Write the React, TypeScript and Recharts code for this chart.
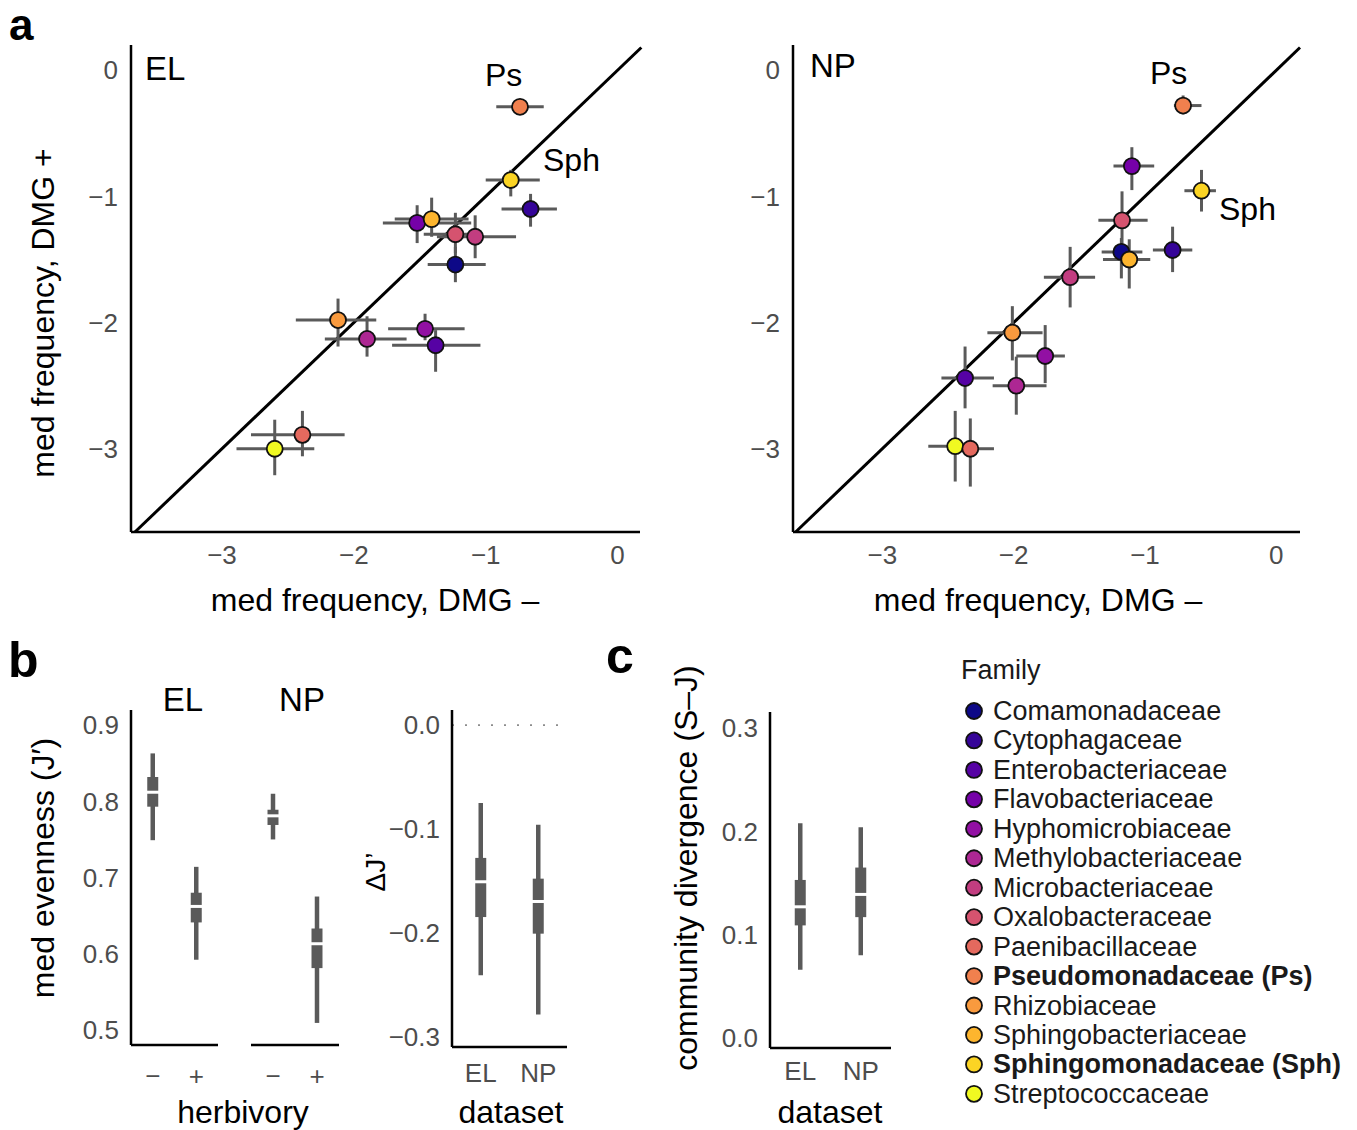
import React from "react";
import {
  ScatterChart,
  ComposedChart,
  Scatter,
  XAxis,
  YAxis,
  ErrorBar,
  ReferenceLine,
} from "recharts";

// ---- families (plasma palette, 14 steps) ----
const families = [
  "Comamonadaceae",
  "Cytophagaceae",
  "Enterobacteriaceae",
  "Flavobacteriaceae",
  "Hyphomicrobiaceae",
  "Methylobacteriaceae",
  "Microbacteriaceae",
  "Oxalobacteraceae",
  "Paenibacillaceae",
  "Pseudomonadaceae (Ps)",
  "Rhizobiaceae",
  "Sphingobacteriaceae",
  "Sphingomonadaceae (Sph)",
  "Streptococcaceae",
];
const familyColors = [
  "#0d0887", "#350498", "#5602a4", "#7501a8", "#9210a3", "#ad2793", "#c23d80",
  "#d5536f", "#e4695e", "#f0804e", "#f99a3e", "#fdb52e", "#fbd424", "#f0f921",
];
const boldFamilies = [9, 12];

// ---- panel a, EL: median log frequency without (x) / with (y) damage ----
const elFamily = [9, 12, 1, 3, 11, 7, 6, 0, 10, 5, 4, 2, 8, 13];
const elX = [-0.74, -0.81, -0.66, -1.52, -1.41, -1.23, -1.08, -1.23, -2.12, -1.9, -1.46, -1.38, -2.39, -2.6];
const elY = [-0.29, -0.87, -1.1, -1.21, -1.18, -1.3, -1.32, -1.54, -1.98, -2.13, -2.05, -2.18, -2.89, -3.0];
const elXLow = [-0.92, -1.0, -0.88, -1.78, -1.69, -1.47, -1.37, -1.44, -2.44, -2.22, -1.74, -1.71, -2.78, -2.89];
const elXHigh = [-0.56, -0.59, -0.46, -1.11, -1.13, -1.11, -0.77, -1.0, -1.83, -1.6, -1.16, -1.04, -2.07, -2.3];
const elYLow = [-0.33, -1.0, -1.24, -1.37, -1.32, -1.45, -1.49, -1.68, -2.19, -2.27, -2.14, -2.39, -3.06, -3.21];
const elYHigh = [-0.25, -0.79, -0.98, -1.07, -1.01, -1.13, -1.15, -1.4, -1.81, -1.95, -1.93, -2.06, -2.7, -2.77];

// ---- panel a, NP ----
const npFamily = [9, 3, 12, 7, 0, 11, 1, 6, 10, 4, 5, 2, 13, 8];
const npX = [-0.71, -1.1, -0.57, -1.175, -1.18, -1.12, -0.79, -1.57, -2.01, -1.76, -1.98, -2.37, -2.445, -2.33];
const npY = [-0.28, -0.76, -0.955, -1.19, -1.44, -1.5, -1.425, -1.64, -2.08, -2.265, -2.5, -2.44, -2.98, -3.0];
const npXLow = [-0.78, -1.24, -0.7, -1.355, -1.33, -1.32, -0.94, -1.77, -2.2, -1.98, -2.16, -2.55, -2.65, -2.39];
const npXHigh = [-0.57, -0.93, -0.46, -0.98, -1.02, -0.96, -0.64, -1.38, -1.78, -1.61, -1.75, -2.15, -2.39, -2.15];
const npYLow = [-0.35, -0.95, -1.12, -1.43, -1.65, -1.73, -1.6, -1.88, -2.3, -2.48, -2.73, -2.68, -3.26, -3.3];
const npYHigh = [-0.2, -0.61, -0.79, -0.96, -1.33, -1.34, -1.24, -1.4, -1.87, -2.02, -2.27, -2.19, -2.7, -2.76];

const freqTicks = [-3, -2, -1, 0];

// ---- panel b: evenness by herbivory ----
const herbivory = ["\u2212", "+"];
const evElMed = [0.812, 0.662];
const evElLow50 = [0.793, 0.641];
const evElHigh50 = [0.832, 0.68];
const evElLow95 = [0.749, 0.592];
const evElHigh95 = [0.863, 0.714];
const evNpMed = [0.781, 0.613];
const evNpLow50 = [0.769, 0.581];
const evNpHigh50 = [0.789, 0.633];
const evNpLow95 = [0.75, 0.509];
const evNpHigh95 = [0.81, 0.675];
const evTicks = [0.5, 0.6, 0.7, 0.8, 0.9];

// ---- panel b: delta J' ----
const datasets = ["EL", "NP"];
const dJMed = [-0.151, -0.17];
const dJLow50 = [-0.185, -0.201];
const dJHigh50 = [-0.128, -0.148];
const dJLow95 = [-0.241, -0.279];
const dJHigh95 = [-0.075, -0.096];
const dJTicks = [-0.3, -0.2, -0.1, 0];

// ---- panel c: community divergence ----
const cdMed = [0.127, 0.139];
const cdLow50 = [0.109, 0.117];
const cdHigh50 = [0.153, 0.165];
const cdLow95 = [0.066, 0.08];
const cdHigh95 = [0.208, 0.204];
const cdTicks = [0, 0.1, 0.2, 0.3];

const FONT = '"Liberation Sans", Arial, Helvetica, sans-serif';
const TICK = { fill: "#4d4d4d", fontSize: 26 };
const AXIS = { stroke: "#000", strokeWidth: 2.5 };
const BAR_GREY = "#5a5a5a";

const fmtInt = (v: number) => (v < 0 ? `\u2212${Math.abs(v)}` : `${v}`);
const fmt1 = (v: number) => (v < 0 ? `\u2212${Math.abs(v).toFixed(1)}` : v.toFixed(1));

function pointRows(fam: number[], xs: number[], ys: number[], xl: number[], xh: number[], yl: number[], yh: number[]) {
  return xs.map((x, i) => ({
    x,
    y: ys[i],
    ex: [x - xl[i], xh[i] - x],
    ey: [ys[i] - yl[i], yh[i] - ys[i]],
    color: familyColors[fam[i]],
  }));
}

function intervalRows(cats: string[], med: number[], l50: number[], h50: number[], l95: number[], h95: number[]) {
  return cats.map((name, i) => ({
    name,
    med: med[i],
    thin: [med[i] - l95[i], h95[i] - med[i]],
    thick: [med[i] - l50[i], h50[i] - med[i]],
  }));
}

const Nothing = () => <g />;
const Dot = (p: any) => (
  <circle cx={p.cx} cy={p.cy} r={8} fill={p.payload.color} stroke="#111" strokeWidth={1.8} />
);
const MedianMark = (p: any) => <rect x={p.cx - 7} y={p.cy - 1.5} width={14} height={3} fill="#fff" />;

function FreqPanel({ rows, left, width, yWidth, xDomain }: any) {
  return (
    <div style={{ position: "absolute", left, top: 0 }}>
      <ScatterChart width={width} height={625} margin={{ top: 45, right: 20, left: 0, bottom: 0 }}>
        <XAxis
          type="number"
          dataKey="x"
          domain={xDomain}
          ticks={freqTicks}
          allowDataOverflow
          tickLine={false}
          tickSize={0}
          tickMargin={14}
          axisLine={AXIS}
          tick={TICK}
          tickFormatter={fmtInt}
          height={93}
        />
        <YAxis
          type="number"
          dataKey="y"
          domain={[-3.66, 0.2]}
          ticks={freqTicks}
          allowDataOverflow
          tickLine={false}
          tickSize={0}
          tickMargin={13}
          axisLine={AXIS}
          tick={TICK}
          tickFormatter={fmtInt}
          width={yWidth}
        />
        <ReferenceLine
          segment={[{ x: -3.66, y: -3.66 }, { x: 0.18, y: 0.18 }]}
          stroke="#000"
          strokeWidth={3}
          ifOverflow="visible"
        />
        <Scatter data={rows} shape={Nothing} isAnimationActive={false}>
          <ErrorBar dataKey="ex" direction="x" width={0} stroke={BAR_GREY} strokeWidth={3} isAnimationActive={false} />
          <ErrorBar dataKey="ey" direction="y" width={0} stroke={BAR_GREY} strokeWidth={3} isAnimationActive={false} />
        </Scatter>
        <Scatter data={rows} shape={Dot} isAnimationActive={false} />
      </ScatterChart>
    </div>
  );
}

function IntervalPanel({ rows, left, width, yWidth, right, top, xHeight, domain, ticks, fmt, showY, zeroLine, tickMargin }: any) {
  return (
    <div style={{ position: "absolute", left, top: 690 }}>
      <ComposedChart width={width} height={440} data={rows} margin={{ top, right, left: showY ? 0 : right, bottom: 0 }}>
        <XAxis
          dataKey="name"
          type="category"
          scale="band"
          tickLine={false}
          tickSize={0}
          tickMargin={tickMargin}
          axisLine={AXIS}
          tick={TICK}
          height={xHeight}
        />
        <YAxis
          type="number"
          domain={domain}
          ticks={ticks}
          allowDataOverflow
          hide={!showY}
          tickLine={false}
          tickSize={0}
          tickMargin={12}
          axisLine={AXIS}
          tick={TICK}
          tickFormatter={fmt}
          width={yWidth}
        />
        {zeroLine && <ReferenceLine y={0} stroke="#8c8c8c" strokeWidth={1.8} strokeDasharray="2 11" />}
        <Scatter dataKey="med" shape={Nothing} isAnimationActive={false}>
          <ErrorBar dataKey="thin" direction="y" width={0} stroke={BAR_GREY} strokeWidth={4.5} isAnimationActive={false} />
          <ErrorBar dataKey="thick" direction="y" width={0} stroke={BAR_GREY} strokeWidth={11} isAnimationActive={false} />
        </Scatter>
        <Scatter dataKey="med" shape={MedianMark} isAnimationActive={false} />
      </ComposedChart>
    </div>
  );
}

export default function App() {
  const elRows = pointRows(elFamily, elX, elY, elXLow, elXHigh, elYLow, elYHigh);
  const npRows = pointRows(npFamily, npX, npY, npXLow, npXHigh, npYLow, npYHigh);
  const evEl = intervalRows(herbivory, evElMed, evElLow50, evElHigh50, evElLow95, evElHigh95);
  const evNp = intervalRows(herbivory, evNpMed, evNpLow50, evNpHigh50, evNpLow95, evNpHigh95);
  const dJ = intervalRows(datasets, dJMed, dJLow50, dJHigh50, dJLow95, dJHigh95);
  const cd = intervalRows(datasets, cdMed, cdLow50, cdHigh50, cdLow95, cdHigh95);

  return (
    <div
      style={{
        position: "absolute",
        left: 0,
        top: 0,
        width: 1357,
        height: 1130,
        background: "#fff",
        fontFamily: FONT,
        overflow: "hidden",
      }}
    >
      {/* a */}
      <FreqPanel rows={elRows} left={0} width={660} yWidth={131} xDomain={[-3.69, 0.17]} />
      <FreqPanel rows={npRows} left={700} width={620} yWidth={93} xDomain={[-3.68, 0.18]} />

      {/* b */}
      <IntervalPanel
        rows={evEl} left={0} width={230} yWidth={131} right={12} top={20} xHeight={85}
        domain={[0.48, 0.92]} ticks={evTicks} fmt={fmt1} showY tickMargin={22}
      />
      <IntervalPanel
        rows={evNp} left={240} width={110} yWidth={0} right={11} top={20} xHeight={85}
        domain={[0.48, 0.92]} ticks={evTicks} fmt={fmt1} showY={false} tickMargin={22}
      />
      <IntervalPanel
        rows={dJ} left={340} width={240} yWidth={112} right={13} top={20} xHeight={83}
        domain={[-0.3102, 0.0145]} ticks={dJTicks} fmt={fmt1} showY zeroLine tickMargin={17}
      />

      {/* c */}
      <IntervalPanel
        rows={cd} left={650} width={260} yWidth={120} right={19} top={22} xHeight={82}
        domain={[-0.0097, 0.3156]} ticks={cdTicks} fmt={fmt1} showY tickMargin={14}
      />

      {/* titles and annotations */}
      <svg width={1357} height={1130} style={{ position: "absolute", left: 0, top: 0, pointerEvents: "none" }}>
        <g fill="#000" fontFamily={FONT}>
          <text x={9} y={40} fontSize={44} fontWeight="bold">a</text>
          <text x={8} y={677} fontSize={50} fontWeight="bold">b</text>
          <text x={606} y={673} fontSize={50} fontWeight="bold">c</text>

          <text x={145} y={80} fontSize={33}>EL</text>
          <text x={810} y={77} fontSize={33}>NP</text>
          <text x={485} y={86} fontSize={32}>Ps</text>
          <text x={543} y={171} fontSize={32}>Sph</text>
          <text x={1150} y={84} fontSize={32}>Ps</text>
          <text x={1219} y={220} fontSize={32}>Sph</text>

          <text x={43} y={313} fontSize={32} textAnchor="middle" dominantBaseline="central" transform="rotate(-90 43 313)">
            med frequency, DMG +
          </text>
          <text x={375} y={600} fontSize={32} textAnchor="middle" dominantBaseline="central">med frequency, DMG –</text>
          <text x={1038} y={600} fontSize={32} textAnchor="middle" dominantBaseline="central">med frequency, DMG –</text>

          <text x={183} y={711} fontSize={33} textAnchor="middle">EL</text>
          <text x={302} y={711} fontSize={33} textAnchor="middle">NP</text>
          <text x={43} y={868} fontSize={32} textAnchor="middle" dominantBaseline="central" transform="rotate(-90 43 868)">
            med evenness (J′)
          </text>
          <text x={243} y={1112} fontSize={32} textAnchor="middle" dominantBaseline="central">herbivory</text>
          <text x={375} y={872} fontSize={28} textAnchor="middle" dominantBaseline="central" transform="rotate(-90 375 872)">
            ΔJ’
          </text>
          <text x={511} y={1112} fontSize={32} textAnchor="middle" dominantBaseline="central">dataset</text>

          <text x={686} y={868} fontSize={32} textAnchor="middle" dominantBaseline="central" transform="rotate(-90 686 868)">
            community divergence (S–J)
          </text>
          <text x={830} y={1112} fontSize={32} textAnchor="middle" dominantBaseline="central">dataset</text>

          <text x={961} y={670} fontSize={27} dominantBaseline="central" fill="#1a1a1a">Family</text>
          {families.map((f, i) => (
            <g key={f}>
              <circle cx={974} cy={711 + i * 29.45} r={8} fill={familyColors[i]} stroke="#111" strokeWidth={1.8} />
              <text
                x={993}
                y={711 + i * 29.45}
                fontSize={27}
                dominantBaseline="central"
                fill="#1a1a1a"
                fontWeight={boldFamilies.includes(i) ? "bold" : "normal"}
              >
                {f}
              </text>
            </g>
          ))}
        </g>
      </svg>
    </div>
  );
}
